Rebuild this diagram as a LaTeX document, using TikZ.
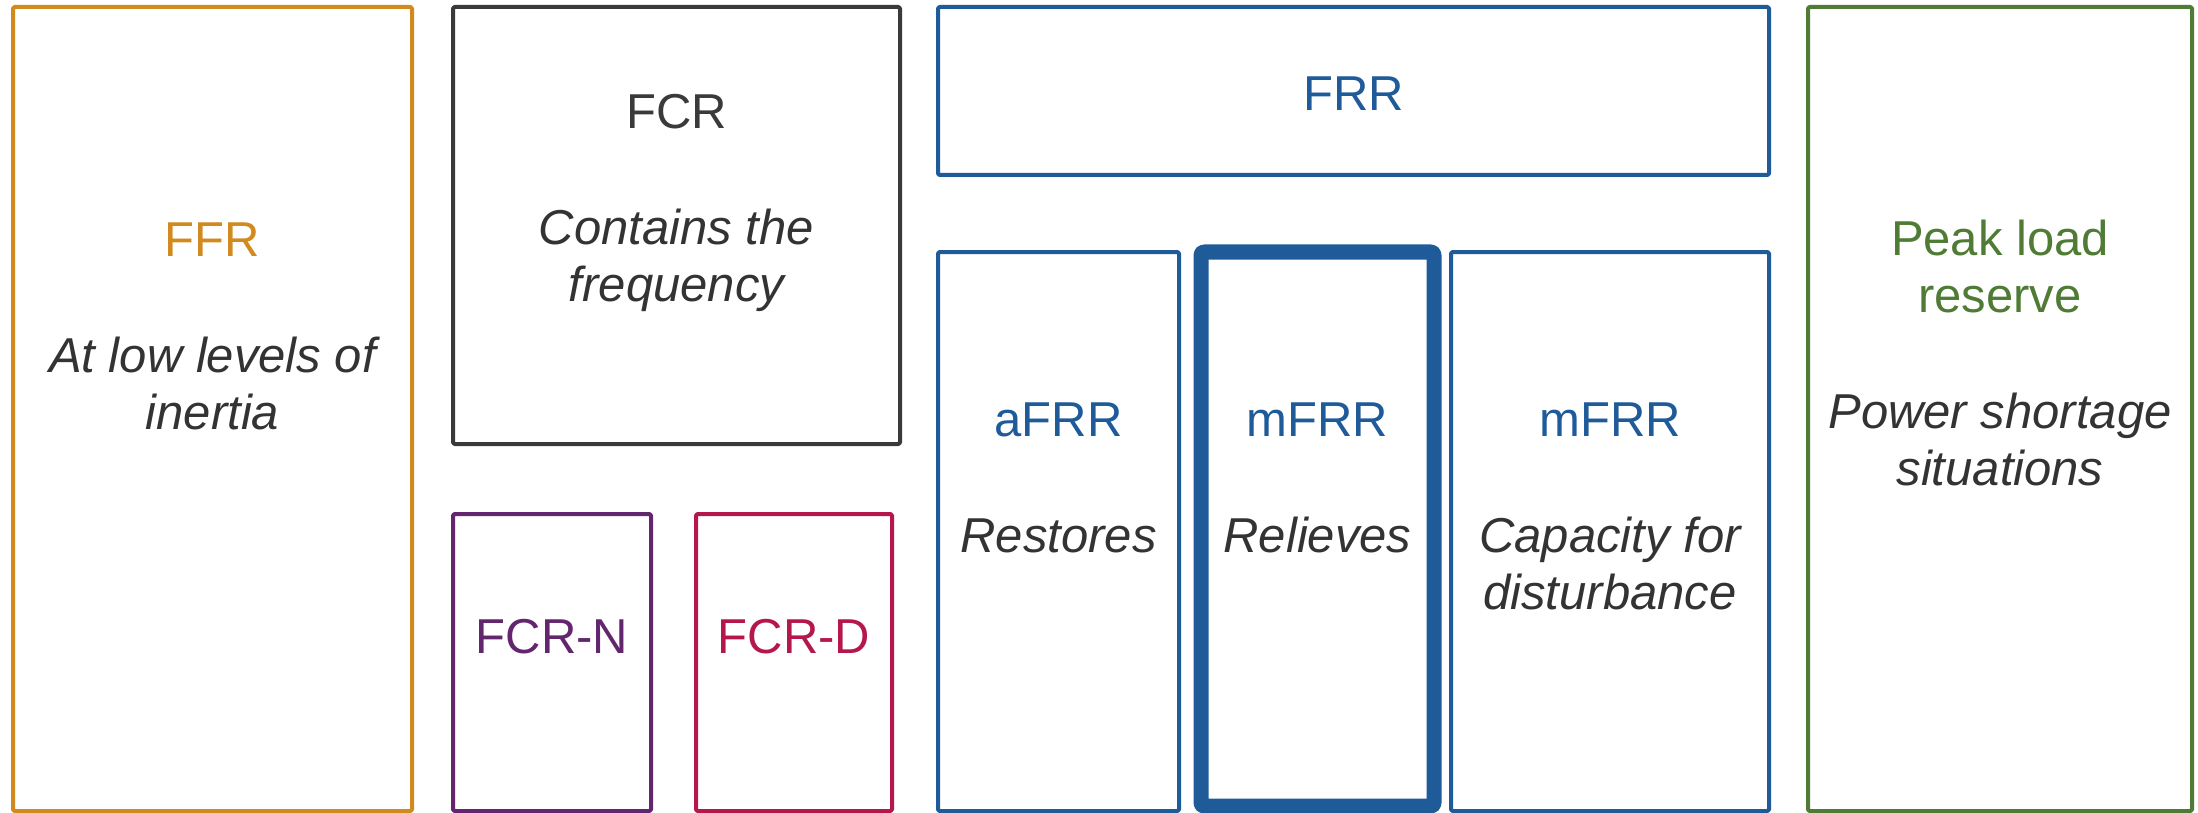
\documentclass[tikz,border=0pt]{standalone}
\usepackage{fontspec}
\setmainfont{Liberation Sans}
\definecolor{cffr}{HTML}{D08A1E}
\definecolor{cfcr}{HTML}{3A3A3A}
\definecolor{cfcrn}{HTML}{62256E}
\definecolor{cfcrd}{HTML}{B5174B}
\definecolor{cblue}{HTML}{1F5A99}
\definecolor{cgreen}{HTML}{4F7B35}
\definecolor{ctext}{HTML}{333333}
\begin{document}
\begin{tikzpicture}[x=1pt,y=-1pt,
  box/.style={draw=#1, line width=4pt, rectangle, inner sep=0pt, outer sep=0pt, rounded corners=1.5pt, line join=round},
  lbl/.style={text=#1, align=center, anchor=base, inner sep=0pt, font=\fontsize{49}{57}\selectfont}
]
\useasboundingbox (0,0) rectangle (2198,813);
% boxes
\node[box=cffr, minimum width=399pt, minimum height=804pt] (ffrbox) at (212.5,409) {};
\node[box=cfcr, minimum width=447pt, minimum height=437pt] (fcrbox) at (676.5,225.5) {};
\node[box=cfcrn, minimum width=198pt, minimum height=297pt] (fcrnbox) at (552,662.5) {};
\node[box=cfcrd, minimum width=196pt, minimum height=297pt] (fcrdbox) at (794,662.5) {};
\node[box=cblue, minimum width=831pt, minimum height=168pt] (frrbox) at (1353.5,91) {};
\node[box=cblue, minimum width=241pt, minimum height=559pt] (afrrbox) at (1058.5,531.5) {};
\node[box=cblue, line width=15pt, rounded corners=3pt, minimum width=233pt, minimum height=554pt] (mfrrbox) at (1317.5,529) {};
\node[box=cblue, minimum width=318pt, minimum height=559pt] (capbox) at (1610,531.5) {};
\node[box=cgreen, minimum width=384pt, minimum height=804pt] (peakbox) at (2000,409) {};
% texts (anchor = baseline of last line)
\node[lbl=cffr] (ffrtxt) at (212.5,429.5) {FFR\\[59pt]{\itshape\color{ctext}At low levels of}\\{\itshape\color{ctext}inertia}};
\node[lbl=cfcr] (fcrtxt) at (676.5,301.5) {FCR\\[59pt]{\itshape\color{ctext}Contains the}\\{\itshape\color{ctext}frequency}};
\node[lbl=cfcrn] (fcrntxt) at (552,653) {FCR-N};
\node[lbl=cfcrd] (fcrdtxt) at (794,653) {FCR-D};
\node[lbl=cblue] (frrtxt) at (1353.5,110.5) {FRR};
\node[lbl=cblue] (afrrtxt) at (1058.5,552) {aFRR\\[59pt]{\itshape\color{ctext}Restores}};
\node[lbl=cblue] (mfrrtxt) at (1317.5,552) {mFRR\\[59pt]{\itshape\color{ctext}Relieves}};
\node[lbl=cblue] (captxt) at (1610,609) {mFRR\\[59pt]{\itshape\color{ctext}Capacity for}\\{\itshape\color{ctext}disturbance}};
\node[lbl=cgreen] (peaktxt) at (2000,485) {Peak load\\reserve\\[59pt]{\itshape\color{ctext}Power shortage}\\{\itshape\color{ctext}situations}};
\end{tikzpicture}
\end{document}
